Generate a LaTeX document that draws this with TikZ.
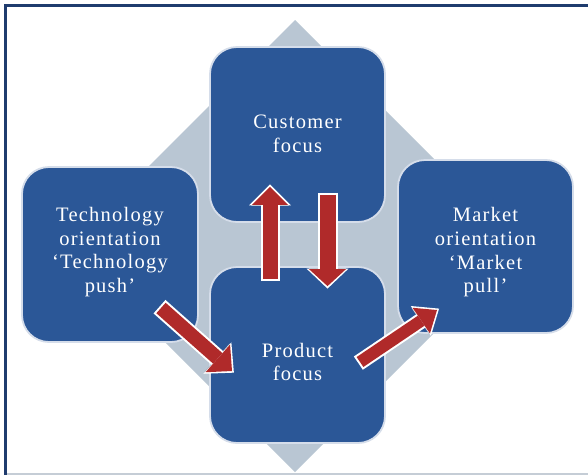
\documentclass[tikz,border=0pt]{standalone}
\usepackage{fontspec}
\setmainfont{Liberation Serif}
\newfontfamily\boxfont[LetterSpace=6]{Liberation Serif}
\usetikzlibrary{arrows.meta,calc}
\definecolor{boxblue}{HTML}{2B5797}
\definecolor{diagray}{HTML}{B9C6D3}
\definecolor{arrred}{HTML}{B02A2A}
\definecolor{shadowgray}{HTML}{9DAABB}
\definecolor{frameblue}{HTML}{1F3C6E}
\definecolor{framegray}{HTML}{C5CDD6}
\begin{document}
\begin{tikzpicture}[x=1pt,y=-1pt,
  box/.style={draw=white!80!boxblue, line width=1.8pt, fill=boxblue,
    rounded corners=27pt, minimum width=175pt, minimum height=175pt,
    inner sep=0pt},
  boxtext/.style={align=center, text=white, inner sep=0pt,
    font=\boxfont\fontsize{20.5}{23.7}\selectfont},
  arrshadow/.style n args={3}{draw=shadowgray, line width=#1,
    xshift=1.5pt, yshift=-5pt,
    -{Triangle[width=#2,length=#3,line width=0pt]}},
  arroutline/.style n args={3}{draw=white, line width=#1,
    shorten >=-2.5pt, shorten <=-2pt,
    -{Triangle[width=#2,length=#3,line width=0pt]}},
  arrfill/.style n args={3}{draw=arrred, line width=#1,
    -{Triangle[width=#2,length=#3,line width=0pt]}}
]
\useasboundingbox (0,0) rectangle (588,475);
\fill[white] (0,0) rectangle (588,475);
% frame
\draw[framegray, line width=2pt] (5.5,473.5) -- (590,473.5);
\draw[frameblue, line width=3pt] (592,5.5) -- (5.5,5.5) -- (5.5,474.5);
% diamond
\fill[diagray] (295,20) -- (521,246) -- (295,472) -- (69,246) -- cycle;
% boxes
\node[box] (cust) at (297.5,134.5) {};
\node[box, minimum width=176pt] (tech) at (110,254.5) {};
\node[box, minimum height=173pt] (mark) at (485.5,246.5) {};
\node[box, minimum height=176pt] (prod) at (297.5,355) {};
% texts
\node[boxtext] (custt) at ([yshift=1pt]cust.center) {Customer\\focus};
\node[boxtext] (techt) at ([yshift=2.5pt]tech.center) {Technology\\orientation\\‘Technology\\push’};
\node[boxtext] (markt) at ([yshift=-6pt]mark.center) {Market\\orientation\\‘Market\\pull’};
\node[boxtext] (prodt) at ([yshift=-7pt]prod.center) {Product\\focus};
% arrows: shadows
\draw[arrshadow={17pt}{38pt}{19pt}] ([xshift=-27.5pt,yshift=-13pt]prod.north) -- ([xshift=-27.5pt,yshift=36pt]cust.south);
\draw[arrshadow={18pt}{38pt}{18pt}] ([xshift=30pt,yshift=28pt]cust.south) -- ([xshift=30pt,yshift=-20pt]prod.north);
\draw[arrshadow={16pt}{38pt}{20pt}] ([xshift=51pt,yshift=-53.5pt]tech.center) -- ([xshift=-65.5pt,yshift=-16pt]prod.center);
\draw[arrshadow={14pt}{32pt}{20pt}] ([xshift=62.5pt,yshift=-7pt]prod.center) -- ([xshift=-48.5pt,yshift=-63.5pt]mark.center);
% arrows: white outlines
\draw[arroutline={19pt}{42pt}{21pt}] ([xshift=-27.5pt,yshift=-13pt]prod.north) -- ([xshift=-27.5pt,yshift=36pt]cust.south);
\draw[arroutline={20pt}{42pt}{20pt}] ([xshift=30pt,yshift=28pt]cust.south) -- ([xshift=30pt,yshift=-20pt]prod.north);
\draw[arroutline={18pt}{42pt}{22pt}] ([xshift=51pt,yshift=-53.5pt]tech.center) -- ([xshift=-65.5pt,yshift=-16pt]prod.center);
\draw[arroutline={16pt}{36pt}{22pt}] ([xshift=62.5pt,yshift=-7pt]prod.center) -- ([xshift=-48.5pt,yshift=-63.5pt]mark.center);
% arrows: red
\draw[arrfill={15pt}{36pt}{18pt}] ([xshift=-27.5pt,yshift=-13pt]prod.north) -- ([xshift=-27.5pt,yshift=36pt]cust.south);
\draw[arrfill={16pt}{37pt}{17pt}] ([xshift=30pt,yshift=28pt]cust.south) -- ([xshift=30pt,yshift=-20pt]prod.north);
\draw[arrfill={14pt}{37pt}{19pt}] ([xshift=51pt,yshift=-53.5pt]tech.center) -- ([xshift=-65.5pt,yshift=-16pt]prod.center);
\draw[arrfill={12pt}{31pt}{19pt}] ([xshift=62.5pt,yshift=-7pt]prod.center) -- ([xshift=-48.5pt,yshift=-63.5pt]mark.center);
\end{tikzpicture}
\end{document}
